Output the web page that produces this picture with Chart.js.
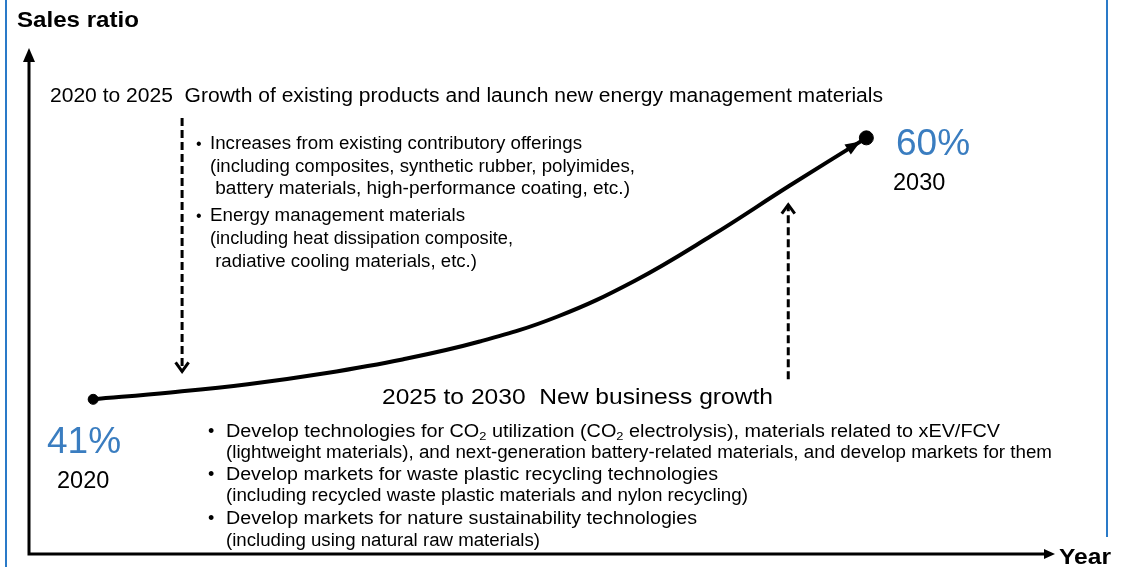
<!DOCTYPE html>
<html>
<head>
<meta charset="utf-8">
<script src="https://cdn.jsdelivr.net/npm/chart.js@4.4.0/dist/chart.umd.min.js"></script>
<style>
    html, body { margin: 0; padding: 0; background: #fff; }
    #wrap { position: relative; width: 1121px; height: 567px; overflow: hidden; font-family: "Liberation Sans", Arial, sans-serif; }
    #chart { position: absolute; left: 0; top: 0; }
    .lbl { position: absolute; white-space: pre; line-height: 1; color: #000; transform-origin: left center; }
    .blue { color: #3a7dc0; }
    sub { font-size: 0.65em; vertical-align: -0.25em; line-height: 0; }
    #borderL { position: absolute; left: 5px; top: 0; width: 2px; height: 567px; background: #2a7ac8; }
    #borderR { position: absolute; left: 1106px; top: 0; width: 2px; height: 537px; background: #2a7ac8; }
</style>
</head>
<body>
<div id="wrap">
    <div id="borderL"></div>
    <div id="borderR"></div>
    <canvas id="chart" width="1121" height="567"></canvas>
</div>
<script>
// Datos de la curva (ratio de ventas por año)
const years = [2020, 2021, 2022, 2023, 2024, 2025, 2026, 2027, 2028, 2029, 2030];
const salesRatio = [41, 41.5, 42.1, 42.9, 43.9, 45.2, 47.0, 49.6, 52.9, 56.5, 60];

// Puntos extremos
const endYears = [2020, 2030];
const endRatios = [41, 60];
const endLabels = ['41%', '60%'];

// Rango de los ejes
const xRange = [2019.17, 2032.44];
const yRange = [29.76, 66.53];

// Flechas punteadas (año, desde, hasta)
const arrowDownYear = 2021.15;
const arrowDownSpan = [61.45, 43.03];
const arrowUpYear = 2028.99;
const arrowUpSpan = [42.45, 55.14];

// Textos (tw = ancho objetivo en px)
const labels = [
    { t: 'Sales ratio', x: 17, b: 28, s: 22, bold: true, tw: 122 },
    { t: '2020 to 2025  Growth of existing products and launch new energy management materials', x: 50, b: 102, s: 20, tw: 833 },
    { t: '•', x: 196, b: 150, s: 16 },
    { t: 'Increases from existing contributory offerings', x: 210, b: 150, s: 17.5, tw: 372 },
    { t: '(including composites, synthetic rubber, polyimides,', x: 210, b: 173, s: 17.5, tw: 425 },
    { t: ' battery materials, high-performance coating, etc.)', x: 210, b: 195, s: 17.5, tw: 420 },
    { t: '•', x: 196, b: 222, s: 16 },
    { t: 'Energy management materials', x: 210, b: 222, s: 17.5, tw: 255 },
    { t: '(including heat dissipation composite,', x: 210, b: 245, s: 17.5, tw: 303 },
    { t: ' radiative cooling materials, etc.)', x: 210, b: 268, s: 17.5, tw: 267 },
    { t: endLabels[1], x: 896, b: 155, s: 37, cls: 'blue' },
    { t: '2030', x: 893, b: 191, s: 23.5 },
    { t: endLabels[0], x: 47, b: 453, s: 37, cls: 'blue' },
    { t: '2020', x: 57, b: 489, s: 23.5 },
    { t: '2025 to 2030  New business growth', x: 382, b: 405, s: 22, tw: 391 },
    { t: 'Year', x: 1059, b: 565, s: 22, bold: true, tw: 52 },
    // bloque inferior
    { t: '•', x: 208, b: 437, s: 18 },
    { h: 'Develop technologies for CO<sub>2</sub> utilization (CO<sub>2</sub> electrolysis), materials related to xEV/FCV', x: 226, b: 437, s: 18, tw: 774 },
    { t: '(lightweight materials), and next-generation battery-related materials, and develop markets for them', x: 226, b: 458, s: 18, tw: 826 },
    { t: '•', x: 208, b: 480, s: 18 },
    { t: 'Develop markets for waste plastic recycling technologies', x: 226, b: 480, s: 18, tw: 492 },
    { t: '(including recycled waste plastic materials and nylon recycling)', x: 226, b: 501, s: 18, tw: 522 },
    { t: '•', x: 208, b: 524, s: 18 },
    { t: 'Develop markets for nature sustainability technologies', x: 226, b: 524, s: 18, tw: 471 },
    { t: '(including using natural raw materials)', x: 226, b: 546, s: 18, tw: 314 }
];

const wrap = document.getElementById('wrap');

function addLabel(l) {
    const d = document.createElement('div');
    d.className = 'lbl' + (l.cls ? ' ' + l.cls : '');
    d.style.fontSize = l.s + 'px';
    if (l.bold) d.style.fontWeight = 'bold';
    d.style.left = l.x + 'px';
    d.style.top = (l.b - l.s * 0.8465) + 'px';
    if (l.h) d.innerHTML = l.h; else d.textContent = l.t;
    wrap.appendChild(d);
    if (l.tw) {
        const k = l.tw / d.getBoundingClientRect().width;
        d.style.transform = `scaleX(${k})`;
    }
}

labels.forEach(addLabel);

// Dibujar ejes, flechas y puntas
const arrowsPlugin = {
    id: 'arrows',
    afterDatasetsDraw(chart) {
        const ctx = chart.ctx;
        const a = chart.chartArea;
        ctx.save();
        ctx.strokeStyle = '#000';
        ctx.fillStyle = '#000';

        // ejes
        ctx.lineWidth = 3;
        ctx.beginPath();
        ctx.moveTo(a.left, a.top + 10);
        ctx.lineTo(a.left, a.bottom);
        ctx.lineTo(a.right - 8, a.bottom);
        ctx.stroke();
        ctx.beginPath();
        ctx.moveTo(a.left, a.top);
        ctx.lineTo(a.left - 6, a.top + 14);
        ctx.lineTo(a.left + 6, a.top + 14);
        ctx.closePath();
        ctx.fill();
        ctx.beginPath();
        ctx.moveTo(a.right, a.bottom);
        ctx.lineTo(a.right - 11, a.bottom - 5);
        ctx.lineTo(a.right - 11, a.bottom + 5);
        ctx.closePath();
        ctx.fill();

        // punta de la curva principal
        const pts = chart.getDatasetMeta(0).data;
        const p1 = pts[pts.length - 2], p2 = pts[pts.length - 1];
        let dx = p2.x - p1.x, dy = p2.y - p1.y;
        const len = Math.hypot(dx, dy);
        dx /= len; dy /= len;
        const tx = p2.x - dx * 7, ty = p2.y - dy * 7;
        ctx.beginPath();
        ctx.moveTo(tx, ty);
        ctx.lineTo(tx - dx * 15 - dy * 6, ty - dy * 15 + dx * 6);
        ctx.lineTo(tx - dx * 15 + dy * 6, ty - dy * 15 - dx * 6);
        ctx.closePath();
        ctx.fill();

        // puntas abiertas de las flechas punteadas
        ctx.lineWidth = 3;
        [2, 3].forEach(i => {
            const d = chart.getDatasetMeta(i).data;
            const e = d[d.length - 1];
            const dir = d[0].y > e.y ? 1 : -1;
            ctx.beginPath();
            ctx.moveTo(e.x - 6.5, e.y + dir * 9);
            ctx.lineTo(e.x, e.y);
            ctx.lineTo(e.x + 6.5, e.y + dir * 9);
            ctx.stroke();
        });
        ctx.restore();
    }
};

new Chart(document.getElementById('chart'), {
    type: 'line',
    data: {
        datasets: [
            {
                label: 'Sales ratio',
                data: years.map((y, i) => ({ x: y, y: salesRatio[i] })),
                borderColor: '#000',
                borderWidth: 4,
                pointRadius: 0,
                tension: 0.4,
                fill: false
            },
            {
                label: 'Extremos',
                data: endYears.map((y, i) => ({ x: y, y: endRatios[i] })),
                showLine: false,
                pointRadius: [5, 7],
                pointBackgroundColor: '#000',
                pointBorderColor: '#000'
            },
            {
                label: 'Flecha 2020-2025',
                data: [{ x: arrowDownYear, y: arrowDownSpan[0] }, { x: arrowDownYear, y: arrowDownSpan[1] }],
                borderColor: '#000',
                borderWidth: 3,
                borderDash: [8, 4],
                pointRadius: 0
            },
            {
                label: 'Flecha 2025-2030',
                data: [{ x: arrowUpYear, y: arrowUpSpan[0] }, { x: arrowUpYear, y: arrowUpSpan[1] }],
                borderColor: '#000',
                borderWidth: 3,
                borderDash: [8, 4],
                pointRadius: 0
            }
        ]
    },
    options: {
        responsive: false,
        animation: false,
        layout: { padding: { left: 29, right: 66, top: 48, bottom: 13 } },
        plugins: { legend: { display: false }, tooltip: { enabled: false } },
        scales: {
            x: { type: 'linear', min: xRange[0], max: xRange[1], display: false },
            y: { type: 'linear', min: yRange[0], max: yRange[1], display: false }
        }
    },
    plugins: [arrowsPlugin]
});
</script>
</body>
</html>
